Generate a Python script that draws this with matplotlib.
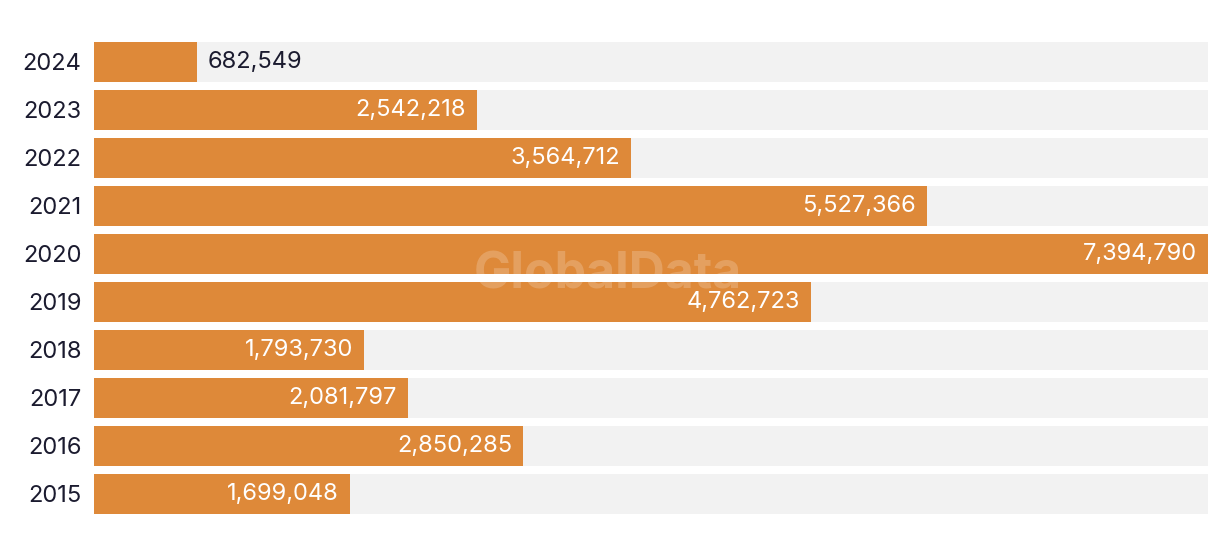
import matplotlib.pyplot as plt

years = ["2024", "2023", "2022", "2021", "2020", "2019", "2018", "2017", "2016", "2015"]
values = [682549, 2542218, 3564712, 5527366, 7394790, 4762723, 1793730, 2081797, 2850285, 1699048]

plt.rcParams['font.family'] = ['Inter', 'DejaVu Sans']

orange = '#DE8939'
track = '#F2F2F2'
dark = '#1B1B2F'

fig = plt.figure(figsize=(12.2, 5.56), dpi=100)
ax = fig.add_axes([94 / 1220, 1 - 518 / 556, 1114 / 1220, 480 / 556])

vmax = max(values)
ypos = list(range(len(years)))
ax.barh(ypos, [vmax] * len(years), height=0.833, color=track, zorder=1)
ax.barh(ypos, values, height=0.833, color=orange, zorder=2)

for y, v in zip(ypos, values):
    txt = f"{v:,}"
    if v / vmax > 0.15:
        ax.annotate(txt, (v, y), xytext=(-8, 0), textcoords='offset points',
                    ha='right', va='center', color='white', fontsize=17, zorder=3)
    else:
        ax.annotate(txt, (v, y), xytext=(8, 0), textcoords='offset points',
                    ha='left', va='center', color=dark, fontsize=17, zorder=3)

ax.set_xlim(0, vmax)
ax.set_ylim(len(years) - 0.5, -0.5)
ax.set_yticks(ypos)
ax.set_yticklabels(years, fontsize=17, color=dark)
ax.tick_params(axis='y', length=0, pad=9)
ax.set_xticks([])
for s in ax.spines.values():
    s.set_visible(False)

# faint watermark
fig.text(0.498, 0.505, "GlobalData", ha='center', va='center', fontsize=36,
         fontweight='bold', color='white', alpha=0.2, zorder=10)

fig.savefig("out.png", dpi=100)
